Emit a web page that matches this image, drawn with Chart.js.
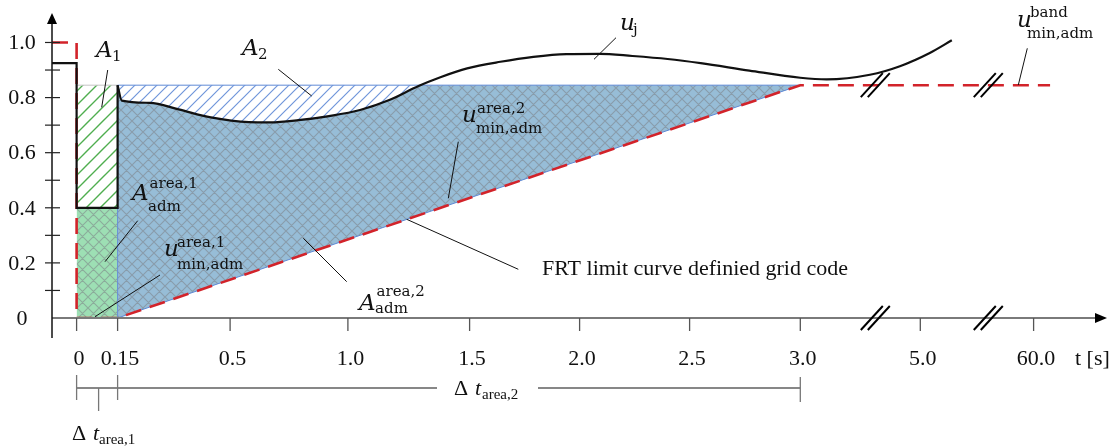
<!DOCTYPE html>
<html>
<head>
<meta charset="utf-8">
<script src="https://cdn.jsdelivr.net/npm/chart.js@4.4.1/dist/chart.umd.min.js"></script>
<style>
  html, body { margin: 0; padding: 0; background: #fff; }
  #wrap { width: 1117px; height: 448px; }
</style>
</head>
<body>
<div id="wrap"><canvas id="frtChart" width="1117" height="448"></canvas></div>
<script>
// ---- data ----
// time axis ticks (the axis is broken / schematic)
const tTicks = [0, 0.15, 0.5, 1.0, 1.5, 2.0, 2.5, 3.0, 5.0, 60.0];
const tTickLabels = ['0', '0.15', '0.5', '1.0', '1.5', '2.0', '2.5', '3.0', '5.0', '60.0'];
const uMinorTicks = [0.1, 0.2, 0.3, 0.4, 0.5, 0.6, 0.7, 0.8, 0.9, 1.0];
const uLabelValues = [0, 0.2, 0.4, 0.6, 0.8, 1.0];
const uLabels = ['0', '0.2', '0.4', '0.6', '0.8', '1.0'];

const tPre = -0.09;          // pre-fault, at the y axis
const uBand = 0.845;         // u_min,adm band
const uArea1 = 0.4;          // u_min,adm area 1
const tArea1 = [0, 0.15];
const tArea2 = [0.15, 3.0];
const tBreaks = [4.25, 38];

// u_j : step part during the fault
const ujStepT = [tPre, 0, 0, 0.15, 0.15];
const ujStepU = [0.925, 0.925, 0.4, 0.4, 0.845];
// u_j : recovery after fault clearing
const ujT = [0.15, 0.163, 0.25, 0.34, 0.44, 0.58, 0.67, 0.79, 0.92, 1.05, 1.17, 1.29, 1.38, 1.49,
             1.64, 1.79, 1.94, 2.09, 2.24, 2.40, 2.55, 2.77, 3.0, 3.44, 4.16, 4.66, 9.6, 20.3];
const ujU = [0.845, 0.789, 0.781, 0.757, 0.728, 0.711, 0.710, 0.718, 0.733, 0.755, 0.791, 0.842, 0.874, 0.906,
             0.930, 0.948, 0.958, 0.959, 0.951, 0.940, 0.925, 0.898, 0.872, 0.866, 0.883, 0.914, 0.962, 1.008];
// FRT limit curve from the grid code
const frtT = [tPre, 0, 0, 0.15, 3.0, 68];
const frtU = [1.0, 1.0, 0, 0, 0.845, 0.845];

// ---- broken time axis: where each tick sits along the axis ----
const tAxisPos = [0, 41, 153.5, 271.3, 393, 503, 613, 723.7, 843.7, 957];
const axisEndPos = 1030.4;

function pos(t) {
    const n = tTicks.length;
    let i = 0;
    if (t <= tTicks[1]) i = 0;
    else if (t >= tTicks[n - 2]) i = n - 2;
    else while (t > tTicks[i + 1]) i++;
    const f = (t - tTicks[i]) / (tTicks[i + 1] - tTicks[i]);
    return tAxisPos[i] + f * (tAxisPos[i + 1] - tAxisPos[i]);
}

function pts(ts, us) {
    return ts.map((t, i) => ({ x: pos(t), y: us[i] }));
}

// ---- fill patterns ----
function makePattern(size, bg, color, width, both) {
    const c = document.createElement('canvas');
    c.width = size; c.height = size;
    const g = c.getContext('2d');
    if (bg) { g.fillStyle = bg; g.fillRect(0, 0, size, size); }
    g.strokeStyle = color;
    g.lineWidth = width;
    g.beginPath();
    // "/" direction
    g.moveTo(-1, size + 1); g.lineTo(size + 1, -1);
    g.moveTo(-1, 1); g.lineTo(1, -1);
    g.moveTo(size - 1, size + 1); g.lineTo(size + 1, size - 1);
    if (both) {
        g.moveTo(-1, -1); g.lineTo(size + 1, size + 1);
        g.moveTo(size - 1, -1); g.lineTo(size + 1, 1);
        g.moveTo(-1, size - 1); g.lineTo(1, size + 1);
    }
    g.stroke();
    return g.createPattern(c, 'repeat');
}

const crossBlue = makePattern(11, '#97bdd7', 'rgba(125,130,135,0.55)', 1.1, true);
const crossGreen = makePattern(11, '#9ddfb4', 'rgba(125,130,135,0.55)', 1.1, true);
const hatchBlue = makePattern(11, '#ffffff', '#7096da', 1.2, false);
const hatchGreen = makePattern(14, '#ffffff', '#4fae4f', 1.4, false);

const serif = '"Liberation Serif", "Times New Roman", serif';
const mathFont = '"DejaVu Serif", serif';

// ---- annotations ----
function seg(ctx, x1, y1, x2, y2, color, w) {
    ctx.beginPath();
    ctx.strokeStyle = color;
    ctx.lineWidth = w;
    ctx.moveTo(x1, y1);
    ctx.lineTo(x2, y2);
    ctx.stroke();
}

function mathLabel(ctx, m) {
    ctx.fillStyle = '#111';
    ctx.textAlign = 'left';
    ctx.textBaseline = 'alphabetic';
    ctx.font = m.font;
    ctx.fillText(m.base, m.x, m.y);
    const w = ctx.measureText(m.base).width;
    ctx.font = '15px ' + mathFont;
    // A labels: scripts sit right after the glyph
    const supX = m.auto ? m.x + w + 1 : m.supX;
    const subX = m.auto ? m.x + w - 0.5 : m.subX;
    if (m.sup) ctx.fillText(m.sup, supX, m.supY);
    if (m.sub) ctx.fillText(m.sub, subX, m.subY);
}

const fontA = 'italic 23px ' + mathFont;
const fontU = 'italic 23px ' + mathFont;
const mathLabels = [
    { base: 'A', font: fontA, x: 96, y: 57, sub: '1', subY: 61, auto: true },
    { base: 'A', font: fontA, x: 242, y: 55, sub: '2', subY: 59, auto: true },
    { base: 'u', font: fontU, x: 620, y: 30, sub: 'j', subX: 633, subY: 34 },
    { base: 'u', font: fontU, x: 462, y: 122, sup: 'area,2', supX: 477, supY: 113, sub: 'min,adm', subX: 476, subY: 133 },
    { base: 'u', font: fontU, x: 164, y: 256, sup: 'area,1', supX: 177, supY: 247, sub: 'min,adm', subX: 177, subY: 269 },
    { base: 'u', font: fontU, x: 1017, y: 27, sup: 'band', supX: 1030, supY: 17, sub: 'min,adm', subX: 1027, subY: 38 },
    { base: 'A', font: fontA, x: 132, y: 200, sup: 'area,1', supY: 188, sub: 'adm', subY: 211, auto: true },
    { base: 'A', font: fontA, x: 359, y: 310, sup: 'area,2', supY: 296, sub: 'adm', subY: 313, auto: true }
];
const leaders = [
    [107.7, 70, 101.7, 107.3],
    [278.3, 69.3, 311.7, 96],
    [616, 37.7, 594, 59.3],
    [458.3, 141.7, 448.3, 198.3],
    [406.7, 219.3, 518.3, 269.3],
    [303.3, 238.3, 346.7, 281.7],
    [137.7, 220.7, 105, 261.7],
    [160, 275, 95, 316.7],
    [1027.3, 48.3, 1018.3, 85]
];

const decor = {
    id: 'frtDecor',
    afterDraw(chart) {
        const ctx = chart.ctx;
        const xs = chart.scales.x, ys = chart.scales.y;
        const X = t => xs.getPixelForValue(pos(t));
        const Y = u => ys.getPixelForValue(u);
        const x0 = xs.left, y0 = Y(0);
        ctx.save();

        // x axis with arrow
        seg(ctx, x0, y0, xs.right - 10, y0, '#7a7a7a', 2);
        ctx.fillStyle = '#000';
        ctx.beginPath();
        ctx.moveTo(xs.right, y0);
        ctx.lineTo(xs.right - 12, y0 - 5);
        ctx.lineTo(xs.right - 12, y0 + 5);
        ctx.closePath();
        ctx.fill();

        // y axis with arrow
        seg(ctx, x0, y0 + 20, x0, ys.top + 8, '#111', 1.5);
        ctx.beginPath();
        ctx.moveTo(x0, ys.top);
        ctx.lineTo(x0 - 5, ys.top + 11);
        ctx.lineTo(x0 + 5, ys.top + 11);
        ctx.closePath();
        ctx.fill();

        // y ticks + labels
        uMinorTicks.forEach(u => seg(ctx, x0 - 7, Y(u), x0 + 8, Y(u), '#222', 1.2));
        ctx.font = '22px ' + serif;
        ctx.fillStyle = '#111';
        ctx.textAlign = 'center';
        ctx.textBaseline = 'middle';
        uLabelValues.forEach((u, i) => ctx.fillText(uLabels[i], x0 - 30, Y(u) + 1));

        // x ticks + labels
        tTicks.forEach((t, i) => {
            seg(ctx, X(t), y0, X(t), y0 + 13, '#555', 1.3);
            ctx.fillText(tTickLabels[i], X(t) + 2.5, y0 + 41);
        });
        ctx.textAlign = 'left';
        ctx.fillText('t [s]', xs.right - 32, y0 + 41);

        // axis breaks (on the time axis and on the band line)
        tBreaks.forEach(t => {
            const cx = X(t);
            [Y(0), Y(uBand)].forEach(cy => {
                [-3.5, 3.5].forEach(d => seg(ctx, cx + d - 11, cy + 12, cx + d + 11, cy - 12, '#000', 2));
            });
        });

        // time intervals below the axis
        const yb = y0 + 70;
        const gapL = 437, gapR = 538;
        seg(ctx, X(tArea1[0]), yb, gapL, yb, '#111', 1.2);
        seg(ctx, gapR, yb, X(tArea2[1]), yb, '#111', 1.2);
        seg(ctx, X(tArea1[0]), yb - 13, X(tArea1[0]), yb + 12, '#777', 1.3);
        seg(ctx, X(tArea1[1]), yb - 13, X(tArea1[1]), yb + 12, '#777', 1.3);
        seg(ctx, X(tArea2[1]), yb - 11, X(tArea2[1]), yb + 14, '#777', 1.3);
        const xm = X((tArea1[0] + tArea1[1]) / 2) + 1.5;
        seg(ctx, xm, yb, xm, yb + 23, '#777', 1.3);

        ctx.fillStyle = '#111';
        ctx.textBaseline = 'alphabetic';
        ctx.font = '22px ' + serif;
        ctx.fillText('\u0394', 454, 395);
        ctx.fillText('\u0394', 72, 440);
        ctx.font = 'italic 22px ' + serif;
        ctx.fillText('t', 475, 395);
        ctx.fillText('t', 93, 440);
        ctx.font = '15px ' + serif;
        ctx.fillText('area,2', 482, 399);
        ctx.fillText('area,1', 99, 444);

        // FRT label
        ctx.font = '22px ' + serif;
        ctx.fillText('FRT limit curve definied grid code', 542, 275);

        // leader lines + math labels
        leaders.forEach(l => seg(ctx, l[0], l[1], l[2], l[3], '#111', 1));
        mathLabels.forEach(m => mathLabel(ctx, m));
        ctx.restore();
    }
};

const blueEdge = '#5f8ad6';

// dataset index 0 is the u_j recovery curve (fill target)
new Chart(document.getElementById('frtChart'), {
    type: 'line',
    data: {
        datasets: [
            {   // 0: u_j recovery
                data: pts(ujT, ujU),
                borderColor: '#111', borderWidth: 2.2,
                cubicInterpolationMode: 'monotone',
                fill: false, order: 1
            },
            {   // 1: u_j during the fault
                data: pts(ujStepT, ujStepU),
                borderColor: '#111', borderWidth: 2.2,
                fill: false, order: 2
            },
            {   // 2: FRT limit curve
                data: pts(frtT, frtU),
                borderColor: '#d2232a', borderWidth: 2.6,
                borderDash: [16, 9],
                fill: false, order: 3
            },
            {   // 3: admissible area 2 (FRT slope up to u_j)
                data: pts(tArea2, [0, uBand]),
                borderColor: blueEdge, borderWidth: 1,
                backgroundColor: crossBlue,
                fill: { target: 0, above: 'rgba(0,0,0,0)', below: crossBlue },
                order: 10
            },
            {   // 4: band line, A2 between band and u_j
                data: pts(tArea2, [uBand, uBand]),
                borderColor: blueEdge, borderWidth: 1,
                backgroundColor: hatchBlue,
                fill: { target: 0, above: hatchBlue, below: '#ffffff' },
                order: 9
            },
            {   // 5: admissible area 1
                data: pts(tArea1, [uArea1, uArea1]),
                borderWidth: 0, borderColor: 'rgba(0,0,0,0)',
                backgroundColor: crossGreen,
                fill: 'origin', order: 8
            },
            {   // 6: A1
                data: pts(tArea1, [uBand, uBand]),
                borderColor: '#c4c4c4', borderWidth: 1,
                backgroundColor: hatchGreen,
                fill: { value: uArea1 }, order: 7
            },
            {   // 7: edge of area 2 at fault clearing
                data: pts([tArea2[0], tArea2[0]], [0, uBand]),
                borderColor: blueEdge, borderWidth: 1,
                fill: false, order: 6
            }
        ]
    },
    options: {
        responsive: false,
        animation: false,
        layout: { padding: { left: 52, right: 10, top: 13, bottom: 130 } },
        elements: { point: { radius: 0, hoverRadius: 0 } },
        scales: {
            x: { type: 'linear', min: pos(tPre), max: axisEndPos, display: false },
            y: { min: 0, max: 1.107, display: false }
        },
        plugins: {
            legend: { display: false },
            tooltip: { enabled: false }
        },
        events: []
    },
    plugins: [decor]
});
</script>
</body>
</html>
